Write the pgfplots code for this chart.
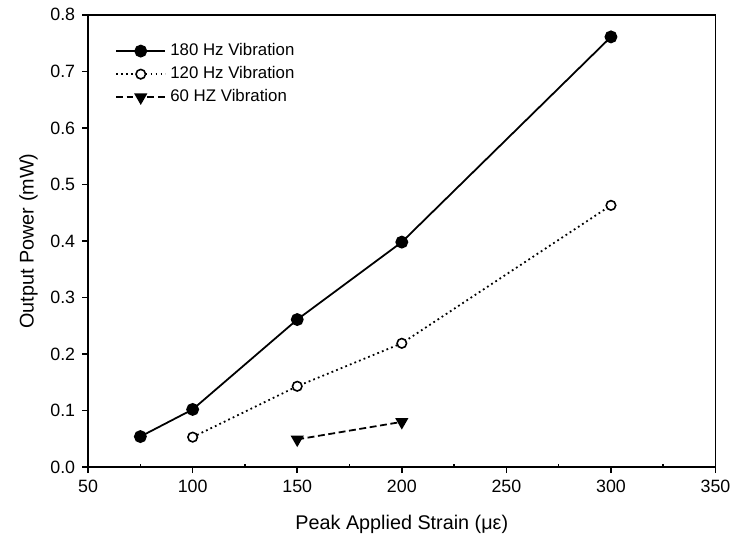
\documentclass[border=0pt]{standalone}
\usepackage{fontspec}
\setmainfont{Liberation Sans}
\usepackage{pgfplots}
\pgfplotsset{compat=1.18}
\usetikzlibrary{calc}

\begin{document}
\begin{tikzpicture}
\begin{axis}[
    name=ax,
    scale only axis,
    width=317pt, height=228.5pt,
    xmin=50, xmax=350, ymin=0, ymax=0.8,
    xtick={50,100,...,350},
    minor xtick={75,125,...,325},
    ytick={0,0.1,...,0.8},
    tick pos=left,
    tick align=outside,
    major tick length=3pt,
    minor tick length=1.8pt,
    minor x tick style={yshift=1.8pt},
    axis line style={line width=0.9pt},
    every tick/.style={black, line width=0.8pt},
    tick label style={font=\fontsize{9}{10}\selectfont},
    /pgf/number format/assume math mode=true,
    yticklabel style={/pgf/number format/.cd, fixed, fixed zerofill, precision=1},
    xticklabel style={/pgf/number format/.cd, fixed},
    xlabel={Peak Applied Strain (με)},
    ylabel={Output Power (mW)},
    label style={font=\fontsize{10.5}{12}\selectfont},
    every axis x label/.style={at={(axis description cs:0.5,-0.127)}, anchor=center},
    every axis y label/.style={at={(axis description cs:-0.095,0.5)}, rotate=90, anchor=center},
    legend style={at={(0.033,0.955)}, anchor=north west, draw=none, fill=none,
        font=\fontsize{8.5}{9.5}\selectfont, row sep=0pt},
    legend cell align=left,
    legend image code/.code={
        \draw[mark repeat=2, mark phase=2, #1] plot coordinates {(0pt,0pt) (12.5pt,0pt) (25pt,0pt)};
    },
]
% 180 Hz
\addplot[black, line width=0.9pt, mark=*, mark size=2.8pt, mark options={fill=black}]
    coordinates {(75,0.054) (100,0.102) (150,0.261) (200,0.398) (300,0.761)};
% 120 Hz
\addplot[black, line width=0.9pt, dash pattern=on 0.9pt off 1.6pt, mark=*, mark size=2.4pt,
    mark options={solid, fill=white, line width=0.8pt}]
    coordinates {(100,0.053) (150,0.143) (200,0.219) (300,0.463)};
% 60 Hz
\addplot[black, line width=0.9pt, dash pattern=on 3.5pt off 1.8pt, mark=triangle*, mark size=3pt,
    mark options={solid, fill=black, rotate=180}]
    coordinates {(150,0.049) (200,0.080)};
\legend{180 Hz Vibration, 120 Hz Vibration, 60 HZ Vibration}
\end{axis}
\path ($(ax.south west)+(-44.5pt,-35.5pt)$) rectangle ($(ax.north east)+(7.5pt,7.5pt)$);
\end{tikzpicture}
\end{document}
